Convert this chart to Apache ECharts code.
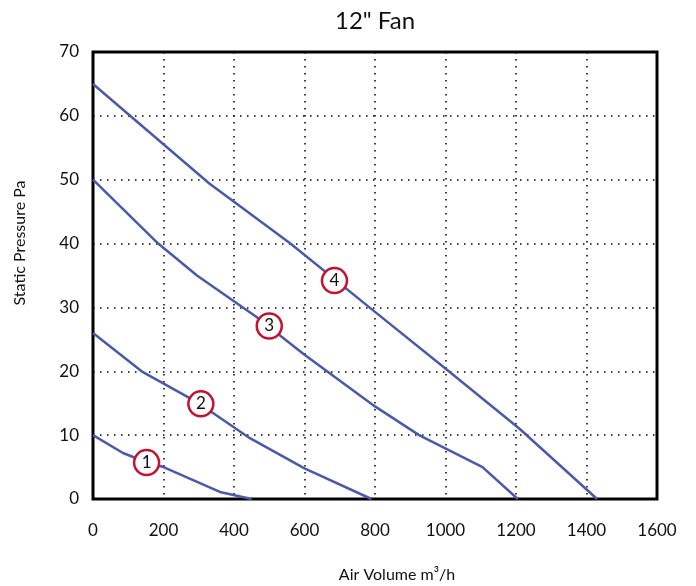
<!DOCTYPE html>
<html>
<head>
<meta charset="utf-8">
<script src="https://cdn.jsdelivr.net/npm/echarts@6/dist/echarts.min.js"></script>
<style>
html,body{margin:0;padding:0;background:#fff;}
#chart{width:696px;height:586px;}
</style>
</head>
<body>
<div id="chart"></div>
<script>
// Air volume (m³/h) vs static pressure (Pa) for each fan curve
const curve1 = [[0,10],[85,7.2],[150,5.8],[200,5],[360,1.1],[450,0]];
const curve2 = [[0,26],[138,20],[300,15],[440,9.7],[600,4.8],[790,0]];
const curve3 = [[0,50],[185,40],[295,35],[464,28.5],[600,22.6],[800,14.5],[925,10],[1105,5],[1205,0]];
const curve4 = [[0,65],[330,49.4],[560,40],[800,29.3],[1005,20.2],[1210,11],[1430,0]];
// curve number markers [x, y, label]
const markers = [[152,5.7,'1'],[306,14.9,'2'],[500,27.1,'3'],[685,34.2,'4']];
const titleText = '12" Fan';
const xName = 'Air Volume m³/h';
const yName = 'Static Pressure Pa';

const FONT = 'Lato, "Noto Sans", sans-serif';
const lineColor = '#4a5aab';
const chart = echarts.init(document.getElementById('chart'));

function lineSeries(data){
  return {
    type:'line', data:data, symbol:'none', smooth:false,
    lineStyle:{color:lineColor, width:2.5}, z:3, silent:true
  };
}

chart.setOption({
  animation:false,
  backgroundColor:'#fff',
  grid:{left:93, right:39, top:52, bottom:87, show:true, borderColor:'#000', borderWidth:3, backgroundColor:'transparent'},
  xAxis:{
    type:'value', min:0, max:1600, interval:200,
    axisLine:{show:false}, axisTick:{show:false},
    axisLabel:{color:'#111', fontSize:17, fontFamily:FONT, margin:23, formatter:function(v){return String(v);}},
    splitLine:{show:true, lineStyle:{color:'#000', width:1.5, type:[1.5,5.5]}}
  },
  yAxis:{
    type:'value', min:0, max:70, interval:10,
    axisLine:{show:false}, axisTick:{show:false},
    axisLabel:{color:'#111', fontSize:17, fontFamily:FONT, margin:14, formatter:function(v){return String(v);}},
    splitLine:{show:true, lineStyle:{color:'#000', width:1.5, type:[1.5,5.5]}}
  },
  series:[
    lineSeries(curve1), lineSeries(curve2), lineSeries(curve3), lineSeries(curve4),
    {
      type:'scatter', data:markers, symbol:'circle', symbolSize:25, z:5,
      itemStyle:{color:'#fff', borderColor:'#c8102e', borderWidth:2.5, opacity:1},
      label:{show:true, position:'inside', formatter:function(p){return p.value[2];},
             color:'#111', fontSize:17, fontFamily:FONT}
    }
  ],
  graphic:[
    {type:'text', x:375, y:21, style:{text:titleText, fill:'#111', font:'24px ' + FONT, textAlign:'center', textVerticalAlign:'middle'}},
    {type:'text', x:397, y:575, style:{text:xName, fill:'#111', font:'16px ' + FONT, textAlign:'center', textVerticalAlign:'middle'}},
    {type:'text', x:20, y:243, rotation:Math.PI/2, style:{text:yName, fill:'#111', font:'16px ' + FONT, textAlign:'center', textVerticalAlign:'middle'}}
  ]
});
</script>
</body>
</html>
